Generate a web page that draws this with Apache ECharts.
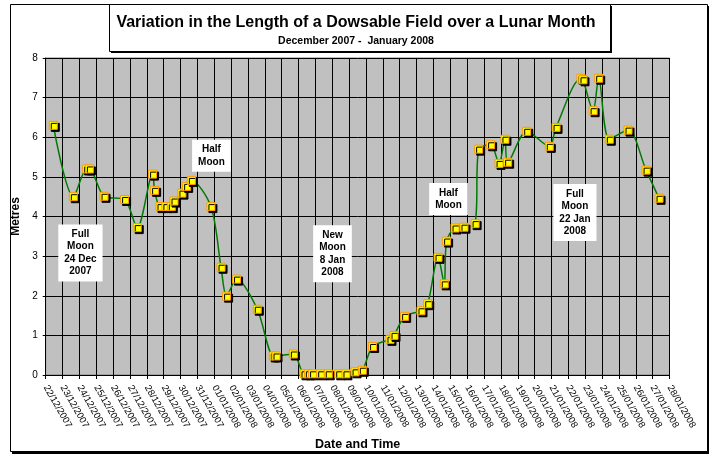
<!DOCTYPE html>
<html>
<head>
<meta charset="utf-8">
<script src="https://cdn.jsdelivr.net/npm/echarts@6/dist/echarts.min.js"></script>
<style>
html,body{margin:0;padding:0;background:#fff;}
#chart{width:712px;height:456px;}
</style>
</head>
<body>
<div id="chart"></div>
<script>
// Tick labels (one per day, day 0 = 22/12/2007)
const tickLabels = [
  '22/12/2007','23/12/2007','24/12/2007','25/12/2007','26/12/2007','27/12/2007','28/12/2007',
  '29/12/2007','30/12/2007','31/12/2007','01/01/2008','02/01/2008','03/01/2008','04/01/2008',
  '05/01/2008','06/01/2008','07/01/2008','08/01/2008','09/01/2008','10/01/2008','11/01/2008',
  '12/01/2008','13/01/2008','14/01/2008','15/01/2008','16/01/2008','17/01/2008','18/01/2008',
  '19/01/2008','20/01/2008','21/01/2008','22/01/2008','23/01/2008','24/01/2008','25/01/2008',
  '26/01/2008','27/01/2008','28/01/2008'
];
// Observation time, in days since 22/12/2007 00:00
const obsDays = [
  0.45,1.64,2.43,2.59,3.46,4.68,5.43,6.34,6.46,6.78,7.13,7.45,7.61,8.08,8.36,8.64,9.80,
  10.40,10.73,11.32,12.55,13.50,13.66,14.69,15.32,15.58,15.83,16.31,16.76,17.38,17.81,
  18.35,18.78,19.39,20.42,20.66,21.29,22.26,22.66,23.27,23.64,23.78,24.28,24.81,25.47,
  25.68,26.39,26.89,27.24,27.40,28.53,29.87,30.27,31.75,31.87,32.47,32.80,33.43,34.54,
  35.61,36.38
];
// Length of the dowsable field (metres)
const metres = [
  6.30,4.50,5.20,5.20,4.51,4.43,3.72,5.07,4.66,4.25,4.25,4.25,4.39,4.59,4.76,4.91,4.25,
  2.72,1.99,2.42,1.66,0.48,0.48,0.53,0.03,0.03,0.03,0.03,0.03,0.03,0.03,
  0.08,0.12,0.72,0.90,1.00,1.48,1.62,1.80,2.97,2.30,3.38,3.71,3.73,3.82,
  5.70,5.81,5.34,5.95,5.37,6.15,5.77,6.25,7.49,7.45,6.67,7.49,5.95,6.18,
  5.17,4.46
];
// Moon-phase notes
const noteTexts = ['Full\nMoon\n24 Dec\n2007','Half\nMoon','New\nMoon\n8 Jan\n2008','Half\nMoon','Full\nMoon\n22 Jan\n2008'];
const noteDays = [2.06, 9.83, 17.01, 23.89, 31.39];
const noteMetres = [3.08, 5.53, 3.06, 4.44, 4.10];

const FONT = "'Liberation Sans', Arial, sans-serif";
const chart = echarts.init(document.getElementById('chart'), null, {renderer:'canvas'});

const seriesData = obsDays.map((d, i) => [d, metres[i]]);
const notes = noteTexts.map((t, i) => ({
  coord: [noteDays[i], noteMetres[i]],
  value: t
}));

chart.setOption({
  animation: false,
  backgroundColor: '#fff',
  textStyle: {fontFamily: FONT},
  title: {
    text: 'Variation in the Length of a Dowsable Field over a Lunar Month',
    subtext: 'December 2007 -  January 2008',
    left: 'center',
    top: 10,
    itemGap: 5,
    textStyle: {fontFamily: FONT, fontSize: 16, fontWeight: 'bold', color: '#000'},
    subtextStyle: {fontFamily: FONT, fontSize: 10.5, fontWeight: 'bold', color: '#000'}
  },
  graphic: [
    {type:'rect', z:-20, silent:true, shape:{x:12, y:6, width:697, height:448}, style:{fill:'#000'}},
    {type:'rect', z:-19, silent:true, shape:{x:10.5, y:4.5, width:697, height:447}, style:{fill:'#fff', stroke:'#000', lineWidth:1}},
    {type:'rect', z:-18, silent:true, shape:{x:111, y:6, width:501, height:47}, style:{fill:'#000'}},
    {type:'rect', z:-17, silent:true, shape:{x:109.5, y:4.5, width:501, height:47}, style:{fill:'#fff', stroke:'#000', lineWidth:1}}
  ],
  grid: {
    left: 45.7, right: 42.5, top: 58, bottom: 76,
    show: true, backgroundColor: '#c0c0c0', borderColor: '#808080', borderWidth: 1,
    containLabel: false
  },
  xAxis: {
    type: 'value', min: 0, max: 37, interval: 1,
    name: 'Date and Time', nameLocation: 'middle', nameGap: 63,
    nameTextStyle: {fontFamily: FONT, fontSize: 12.5, fontWeight: 'bold', color: '#000'},
    axisLine: {show: true, onZero: false, lineStyle: {color: '#000', width: 1}},
    axisTick: {show: true, length: 4, lineStyle: {color: '#000'}},
    splitLine: {show: true, lineStyle: {color: '#000', width: 1}},
    axisLabel: {
      rotate: -60, margin: 11, fontSize: 9.5, color: '#000', fontFamily: FONT,
      showMinLabel: true, showMaxLabel: true,
      formatter: v => tickLabels[Math.round(v)] || ''
    }
  },
  yAxis: {
    type: 'value', min: 0, max: 8, interval: 1,
    name: 'Metres', nameLocation: 'middle', nameGap: 23, nameRotate: 90,
    nameTextStyle: {fontFamily: FONT, fontSize: 12, fontWeight: 'bold', color: '#000'},
    axisLine: {show: true, lineStyle: {color: '#000', width: 1}},
    axisTick: {show: true, length: 3, lineStyle: {color: '#000'}},
    splitLine: {show: true, lineStyle: {color: '#000', width: 1}},
    axisLabel: {fontSize: 10, color: '#000', margin: 8, fontFamily: FONT}
  },
  series: [{
    type: 'line',
    data: seriesData,
    smooth: 0.3,
    symbol: 'rect',
    symbolSize: 8,
    showAllSymbol: true,
    lineStyle: {color: '#007a00', width: 1.5},
    itemStyle: {color: '#ffff00', borderColor: '#ff9900', borderWidth: 1,
      shadowColor: '#000', shadowOffsetX: 2, shadowOffsetY: 2, shadowBlur: 0},
    emphasis: {disabled: true},
    markPoint: {
      silent: true,
      symbol: 'circle',
      symbolSize: 1,
      itemStyle: {color: 'transparent', borderWidth: 0, shadowBlur: 0, shadowOffsetX: 0, shadowOffsetY: 0},
      label: {
        show: true, position: 'inside',
        formatter: p => p.value,
        backgroundColor: '#fff', padding: [4, 6, 3, 6],
        fontFamily: FONT, fontSize: 10, fontWeight: 'bold', lineHeight: 12.5,
        color: '#000', align: 'center'
      },
      data: notes
    }
  }]
});
</script>
</body>
</html>
